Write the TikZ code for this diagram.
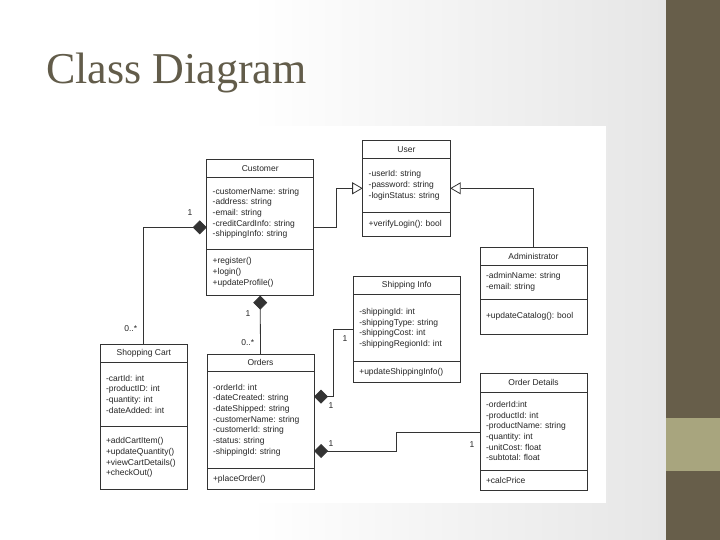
\documentclass[tikz,border=0pt]{standalone}
\usepackage{fontspec}
\setmainfont{Liberation Serif}
\newfontfamily\umlfont{Liberation Sans}
\usetikzlibrary{arrows.meta, positioning}
\definecolor{stripebrown}{RGB}{103,94,74}
\definecolor{stripetan}{RGB}{168,165,126}
\definecolor{titlegray}{RGB}{98,92,74}
\definecolor{slidegray}{RGB}{230,230,230}
\definecolor{umlgray}{RGB}{51,51,51}
\newcommand{\umltext}{\umlfont\fontsize{8.5}{10.7}\selectfont\frenchspacing}

\tikzset{
  clshead/.style={draw=umlgray, line width=0.8pt, fill=white, anchor=north west, inner sep=0pt, outer sep=0pt, minimum height=18pt, minimum width=#1, font=\umltext, text=black!85},
  clsbody/.style={draw=umlgray, line width=0.8pt, fill=white, inner xsep=6pt, inner ysep=0pt, outer sep=0pt, text width=#1, align=left, font=\umltext, text=black!85},
  genline/.style={draw=umlgray, line width=0.8pt, -{Triangle[open, length=10.5pt, width=12pt]}},
  compline/.style={draw=umlgray, line width=0.8pt, {Diamond[length=14pt, width=14pt]}-},
  mult/.style={font=\umltext, text=black!85, inner sep=0pt},
}

\begin{document}
\begin{tikzpicture}[x=1pt, y=-1pt, node distance=0pt]
  % slide background
  \useasboundingbox (0,0) rectangle (720,540);
  \fill[white] (0,0) rectangle (720,540);
  \shade[left color=white, right color=slidegray] (250,0) rectangle (666,540);
  \fill[white] (95,126) rectangle (606,503);
  \fill[stripebrown] (666,0) rectangle (720,540);
  \fill[stripetan] (666,418) rectangle (720,471);
  \node[anchor=base west, text=titlegray, font=\fontsize{44}{50}\selectfont, inner sep=0pt] (title) at (46,83.3) {Class Diagram};

  % classes
  \node[clshead=107pt, minimum height=18.4pt] (cust) at (206.7,159.3) {Customer};
  \node[clsbody=95pt, minimum height=71.3pt, below=of cust] (cust-a) {-customerName: string\\-address: string\\-email: string\\-creditCardInfo: string\\-shippingInfo: string};
  \node[clsbody=95pt, minimum height=46.7pt, below=of cust-a] (cust-m) {+register()\\+login()\\+updateProfile()};

  \node[clshead=87.5pt, minimum height=18.3pt] (user) at (362.7,140) {User};
  \node[clsbody=75.5pt, minimum height=54.4pt, below=of user] (user-a) {-userId: string\\-password: string\\-loginStatus: string};
  \node[clsbody=75.5pt, minimum height=24pt, below=of user-a] (user-m) {+verifyLogin(): bool};

  \node[clshead=107pt] (admin) at (480,247) {Administrator};
  \node[clsbody=95pt, minimum height=34.3pt, below=of admin] (admin-a) {-adminName: string\\-email: string};
  \node[clsbody=95pt, minimum height=35pt, below=of admin-a] (admin-m) {+updateCatalog(): bool};

  \node[clshead=107pt, minimum height=18.7pt] (ship) at (353.3,276) {Shipping Info};
  \node[clsbody=95pt, minimum height=67pt, below=of ship] (ship-a) {-shippingId: int\\-shippingType: string\\-shippingCost: int\\-shippingRegionId: int};
  \node[clsbody=95pt, minimum height=21pt, below=of ship-a] (ship-m) {+updateShippingInfo()};

  \node[clshead=107pt, minimum height=19pt] (detail) at (480,373.3) {Order Details};
  \node[clsbody=95pt, minimum height=77.7pt, below=of detail] (detail-a) {-orderId:int\\-productId: int\\-productName: string\\-quantity: int\\-unitCost: float\\-subtotal: float};
  \node[clsbody=95pt, minimum height=20pt, below=of detail-a] (detail-m) {+calcPrice};

  \node[clshead=107pt, minimum height=17.7pt] (orders) at (207,354) {Orders};
  \node[clsbody=95pt, minimum height=96.6pt, below=of orders] (orders-a) {-orderId: int\\-dateCreated: string\\-dateShipped: string\\-customerName: string\\-customerId: string\\-status: string\\-shippingId: string};
  \node[clsbody=95pt, minimum height=21pt, below=of orders-a] (orders-m) {+placeOrder()};

  \node[clshead=87.7pt] (cart) at (100,344.3) {Shopping Cart};
  \node[clsbody=75.7pt, minimum height=63.7pt, below=of cart] (cart-a) {-cartId: int\\-productID: int\\-quantity: int\\-dateAdded: int};
  \node[clsbody=75.7pt, minimum height=63.3pt, below=of cart-a] (cart-m) {+addCartItem()\\+updateQuantity()\\+viewCartDetails()\\+checkOut()};

  % inheritance
  \draw[genline] (cust-a.east |- 0,227.3) -- ++(23,0) |- (user-a.west |- 0,188.3);
  \draw[genline] (admin.north) |- (user-a.east |- 0,188.3);

  % composition
  \draw[compline] (cust-a.west |- 0,227.3) -| (cart.north);
  \draw[compline] (cust-m.south) -- (orders.north);
  \draw[compline] (orders-a.east |- 0,396.7) -- ++(19.3,0) |- (ship-a.west |- 0,329.3);
  \draw[compline] (orders-a.east |- 0,451) -- ++(82.7,0) |- (detail-a.west |- 0,432);

  % multiplicities
  \node[mult] (m1) at (190,212.3) {1};
  \node[mult] (m2) at (130.7,328.3) {0..*};
  \node[mult] (m3) at (248,313.5) {1};
  \node[mult] (m4) at (247.7,342.7) {0..*};
  \node[mult] (m5) at (345,339) {1};
  \node[mult] (m6) at (331,406) {1};
  \node[mult] (m7) at (331,443.7) {1};
  \node[mult] (m8) at (472,444.3) {1};
\end{tikzpicture}
\end{document}
